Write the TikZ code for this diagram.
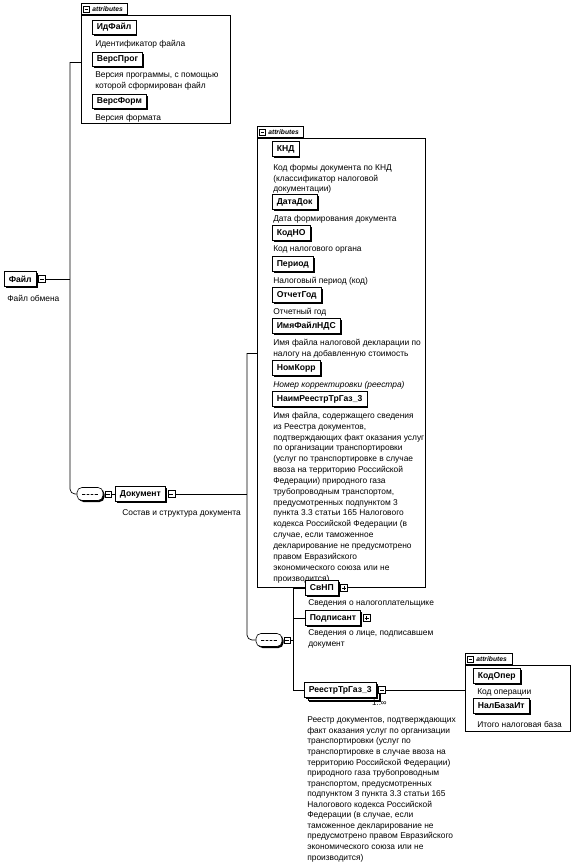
\documentclass[tikz,border=0pt]{standalone}
\usepackage{fontspec}
\setmainfont{Liberation Sans}
\usetikzlibrary{shadows,calc}
\newcommand\dfont{\fontsize{8.4}{10.85}\selectfont}
\newcommand\dfontr{\fontsize{8.4}{10.55}\selectfont}
\newcommand\efont{\fontsize{8.6}{10}\selectfont\bfseries}
\newcommand\tabfont{\fontsize{6.7}{7}\selectfont\bfseries\itshape}
\begin{document}
\begin{tikzpicture}[x=1pt,y=1pt,line width=0.6pt,
 elem/.style={draw, fill=white, font=\efont, inner xsep=4.5pt, inner ysep=0pt, minimum height=14.5pt, anchor=west,
   general shadow={fill=black, shadow xshift=1.6pt, shadow yshift=-1.6pt}},
 tog/.style={draw, fill=white, line width=0.5pt, minimum size=7pt, inner sep=0pt, anchor=west},
 minusbox/.style={tog, path picture={\draw[line width=0.6pt] ([xshift=1.4pt]path picture bounding box.west) -- ([xshift=-1.4pt]path picture bounding box.east);}},
 plusbox/.style={tog, path picture={\draw[line width=0.6pt] ([xshift=1.4pt]path picture bounding box.west) -- ([xshift=-1.4pt]path picture bounding box.east);
   \draw[line width=0.6pt] ([yshift=1.4pt]path picture bounding box.south) -- ([yshift=-1.4pt]path picture bounding box.north);}},
 desc/.style={anchor=north west, align=left, inner sep=0pt, font=\dfont},
 attrbox/.style={draw, anchor=north west, inner sep=0pt},
 tabbox/.style={draw, fill=white, anchor=south west, inner xsep=2pt, inner ysep=0pt, minimum height=11pt, font=\tabfont},
 seqbox/.style={draw, fill=white, rounded corners=5pt, minimum width=26pt, minimum height=13pt, inner sep=0pt,
   general shadow={fill=black, shadow xshift=1.5pt, shadow yshift=-1.5pt},
   path picture={\draw[line width=0.6pt] ([xshift=-8pt]path picture bounding box.center) -- ([xshift=8pt]path picture bounding box.center);
     \foreach \dx in {-4,0,4} \fill ([xshift=\dx pt]path picture bounding box.center) circle (1.1pt);}},
 conn/.style={line width=0.7pt}
]
\useasboundingbox (0,0) rectangle (574,-865);

% ---------- attributes of Файл ----------
\node[attrbox, minimum width=149pt, minimum height=108pt] (a1box) at (81,-15) {};
\node[tabbox] (a1tab) at (a1box.north west) {\hspace*{9pt}attributes\hspace*{2pt}};
\node[minusbox, minimum size=6pt] (a1tabX) at ([xshift=2pt]a1tab.west) {};
\node[elem] (idf) at (92,-27.5) {ИдФайл};
\node[desc] (idfD) at (95,-39.8) {Идентификатор файла};
\node[elem] (vprog) at (92,-59.5) {ВерсПрог};
\node[desc] (vprogD) at (95,-71.8) {Версия программы, с помощью\\которой сформирован файл};
\node[elem] (vform) at (92,-101.5) {ВерсФорм};
\node[desc] (vformD) at (95,-113.8) {Версия формата};

% ---------- Файл ----------
\node[elem] (file) at (4,-279) {Файл};
\node[minusbox] (fileX) at ([xshift=2pt]file.east) {};
\node[desc] (fileD) at (7,-294.8) {Файл обмена};

% ---------- Документ ----------
\node[seqbox] (seq1) at (90,-494) {};
\node[minusbox, minimum size=6pt] (seq1X) at ([xshift=1.5pt]seq1.east) {};
\node[elem] (doc) at (115,-494) {Документ};
\node[minusbox] (docX) at ([xshift=2pt]doc.east) {};
\node[desc] (docD) at (122,-509.8) {Состав и структура документа};

% ---------- attributes of Документ ----------
\node[attrbox, minimum width=168pt, minimum height=449pt] (a2box) at (257,-138) {};
\node[tabbox] (a2tab) at (a2box.north west) {\hspace*{9pt}attributes\hspace*{2pt}};
\node[minusbox, minimum size=6pt] (a2tabX) at ([xshift=2pt]a2tab.west) {};
\node[elem] (knd) at (272,-149) {КНД};
\node[desc] (kndD) at (273,-163.8) {Код формы документа по КНД\\(классификатор налоговой\\документации)};
\node[elem] (datadok) at (272,-202) {ДатаДок};
\node[desc] (datadokD) at (273,-214.8) {Дата формирования документа};
\node[elem] (kodno) at (272,-233) {КодНО};
\node[desc] (kodnoD) at (273,-245.8) {Код налогового органа};
\node[elem] (period) at (272,-264) {Период};
\node[desc] (periodD) at (273,-276.8) {Налоговый период (код)};
\node[elem] (otchet) at (272,-295) {ОтчетГод};
\node[desc] (otchetD) at (273,-307.8) {Отчетный год};
\node[elem] (imya) at (272,-326) {ИмяФайлНДС};
\node[desc] (imyaD) at (273,-338.8) {Имя файла налоговой декларации по\\налогу на добавленную стоимость};
\node[elem] (nomkorr) at (272,-368) {НомКорр};
\node[desc, font=\dfont\itshape] (nomkorrD) at (273,-380.8) {Номер корректировки (реестра)};
\node[elem] (naim) at (272,-399) {НаимРеестрТрГаз\_3};
\node[desc] (naimD) at (273,-411.8) {Имя файла, содержащего сведения\\из Реестра документов,\\подтверждающих факт оказания услуг\\по организации транспортировки\\(услуг по транспортировке в случае\\ввоза на территорию Российской\\Федерации) природного газа\\трубопроводным транспортом,\\предусмотренных подпунктом 3\\пункта 3.3 статьи 165 Налогового\\кодекса Российской Федерации (в\\случае, если таможенное\\декларирование не предусмотрено\\правом Евразийского\\экономического союза или не\\производится)};

% ---------- sequence of Документ ----------
\node[seqbox] (seq2) at (269,-640) {};
\node[minusbox, minimum size=6pt] (seq2X) at ([xshift=1.5pt]seq2.east) {};
\node[elem] (svnp) at (305,-588) {СвНП};
\node[plusbox] (svnpX) at ([xshift=2pt]svnp.east) {};
\node[desc] (svnpD) at (308,-599.8) {Сведения о налогоплательщике};
\node[elem] (podp) at (305,-618) {Подписант};
\node[plusbox] (podpX) at ([xshift=2pt]podp.east) {};
\node[desc] (podpD) at (308,-629.8) {Сведения о лице, подписавшем\\документ};
\node[elem] (reestrS) at (307.5,-693.5) {\phantom{РеестрТрГаз\_3}};
\node[elem] (reestr) at (304,-690) {РеестрТрГаз\_3};
\node[minusbox] (reestrX) at ([xshift=2pt]reestr.east) {};
\node[font=\fontsize{8}{9}\selectfont, anchor=north east, inner sep=0pt] (mult) at ([xshift=1pt,yshift=-6pt]reestrX.south east) {1..∞};
\node[desc, font=\dfontr] (reestrD) at (307,-716.8) {Реестр документов, подтверждающих\\факт оказания услуг по организации\\транспортировки (услуг по\\транспортировке в случае ввоза на\\территорию Российской Федерации)\\природного газа трубопроводным\\транспортом, предусмотренных\\подпунктом 3 пункта 3.3 статьи 165\\Налогового кодекса Российской\\Федерации (в случае, если\\таможенное декларирование не\\предусмотрено правом Евразийского\\экономического союза или не\\производится)};

% ---------- attributes of РеестрТрГаз_3 ----------
\node[attrbox, minimum width=105pt, minimum height=66pt] (a3box) at (465,-665) {};
\node[tabbox] (a3tab) at (a3box.north west) {\hspace*{9pt}attributes\hspace*{3pt}};
\node[minusbox, minimum size=6pt] (a3tabX) at ([xshift=2pt]a3tab.west) {};
\node[elem] (kodoper) at (473,-676) {КодОпер};
\node[desc] (kodoperD) at (477,-688.8) {Код операции};
\node[elem] (nalbaza) at (473,-706) {НалБазаИт};
\node[desc] (nalbazaD) at (477,-720.8) {Итого налоговая база};

% ---------- connectors ----------
\coordinate (j1) at (70,-62);
\draw[conn] (fileX.east) -- (fileX.east -| j1);
\draw[conn] (j1) -- (j1 -| a1box.west);
\draw[conn, rounded corners=5pt] (j1) |- (seq1.west);
\draw[conn] (seq1X.east) -- (doc.west);

\coordinate (j2) at (247,-353);
\draw[conn] (docX.east) -- (docX.east -| j2);
\draw[conn] (j2) -- (j2 -| a2box.west);
\draw[conn, rounded corners=5pt] (j2) |- (seq2.west);

\coordinate (bus) at (293,-640);
\draw[conn] (seq2X.east) -- (bus);
\draw[conn] (svnp.west) -| (bus |- reestr.west) -- (reestr.west);
\draw[conn] (podp.west) -- (podp.west -| bus);
\draw[conn] (reestrX.east) -- (reestrX.east -| a3box.west);
\end{tikzpicture}
\end{document}
